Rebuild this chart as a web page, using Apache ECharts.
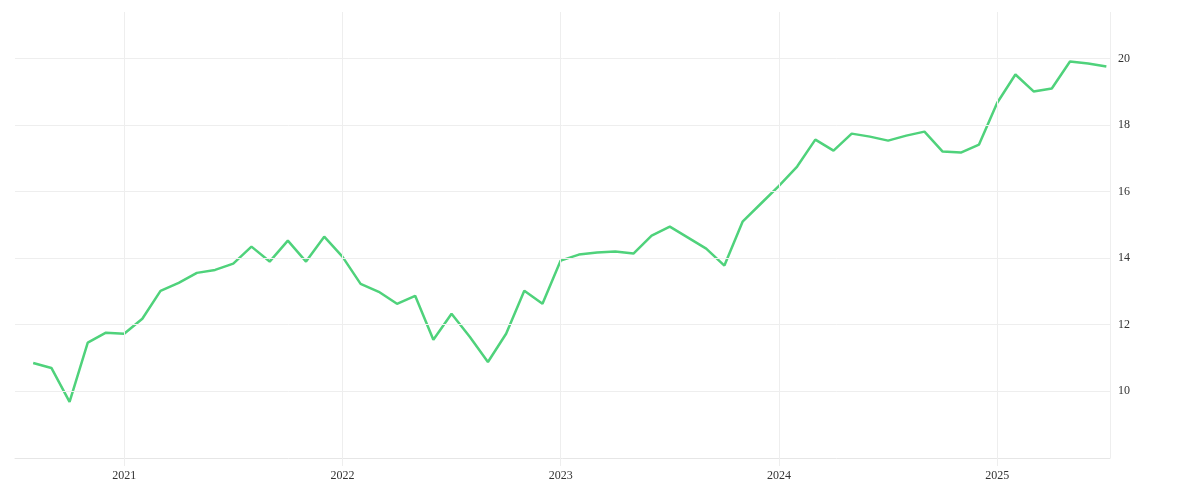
<!DOCTYPE html>
<html><head><meta charset="utf-8">
<script src="https://cdn.jsdelivr.net/npm/echarts@6/dist/echarts.min.js"></script>
<style>html,body{margin:0;padding:0;background:#fff}#c{width:1200px;height:500px}</style>
</head><body><div id="c"></div>
<script>
// months since 2020-01 (Aug 2020 = 7)
const startMonth = 7;
const values = [10.84,10.69,9.67,11.45,11.75,11.72,12.17,13.01,13.25,13.55,13.64,13.83,14.34,13.89,14.52,13.89,14.64,14.04,13.22,12.98,12.62,12.86,11.54,12.32,11.63,10.87,11.72,13.01,12.62,13.92,14.10,14.16,14.19,14.13,14.67,14.94,14.61,14.28,13.77,15.09,15.63,16.17,16.75,17.56,17.23,17.74,17.65,17.53,17.68,17.80,17.20,17.17,17.41,18.67,19.52,19.01,19.10,19.91,19.85,19.76];
const yearTicks = [12,24,36,48,60];
const yearLabels = ['2021','2022','2023','2024','2025'];
const yTicks = [10,12,14,16,18,20];
const data = values.map((v,i)=>[startMonth+i, v]);
const font = 'Liberation Serif';
const chart = echarts.init(document.getElementById('c'));
chart.setOption({
  animation:false,
  grid:{left:15,right:90,top:12,bottom:42},
  xAxis:{type:'value',min:6,max:66.2,
    axisLine:{show:true,lineStyle:{color:'#e6e6e6'}},
    axisTick:{show:true,customValues:yearTicks,length:8,lineStyle:{color:'#eeeeee'}},
    axisLabel:{customValues:yearTicks,formatter:v=>yearLabels[yearTicks.indexOf(v)]||'',color:'#333',fontFamily:font,fontSize:12,margin:12},
    splitLine:{show:false}},
  yAxis:{type:'value',position:'right',min:7.98,max:21.4,
    axisLine:{show:false},axisTick:{show:false},
    axisLabel:{customValues:yTicks,color:'#333',fontFamily:font,fontSize:12,margin:8},
    splitLine:{show:false}},
  series:[{type:'line',data:data,symbol:'none',lineStyle:{color:'#4fd27b',width:2.5},
    markLine:{silent:true,symbol:'none',label:{show:false},
      lineStyle:{color:'#eeeeee',width:1,type:'solid'},
      data:[...yearTicks.map(t=>({xAxis:t})),{xAxis:66.2},...yTicks.map(t=>({yAxis:t}))]},
    z:3}]
});
</script></body></html>
